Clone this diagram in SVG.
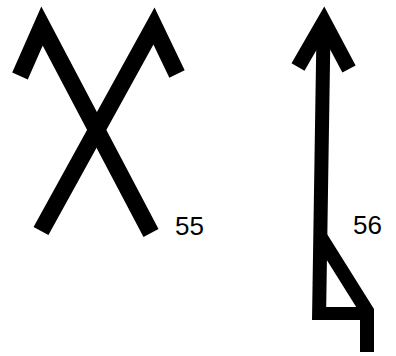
<svg xmlns="http://www.w3.org/2000/svg" width="396" height="356" viewBox="0 0 396 356">
  <style>
    .stroke { fill: none; stroke: #000; stroke-linejoin: miter; stroke-linecap: butt; stroke-miterlimit: 10; }
    .label { font-family: "Liberation Sans", Arial, sans-serif; font-size: 26px; fill: #000; }
  </style>
  <rect width="396" height="356" fill="#fff"/>
  <g id="symbol-55">
    <polyline class="stroke" stroke-width="17" points="20,76 42,26 151,233"/>
    <polyline class="stroke" stroke-width="17" points="177,74 154,26 41,231"/>
    <text class="label" x="175" y="235">55</text>
  </g>
  <g id="symbol-56">
    <line class="stroke" stroke-width="14" x1="323.5" y1="30" x2="319" y2="320"/>
    <polyline class="stroke" stroke-width="15" points="298,67 324,22 349,69"/>
    <polyline class="stroke" stroke-width="14" points="320,236 367,311 367,352"/>
    <line class="stroke" stroke-width="13" x1="313" y1="313.5" x2="367" y2="313.5"/>
    <text class="label" x="353" y="234">56</text>
  </g>
</svg>
